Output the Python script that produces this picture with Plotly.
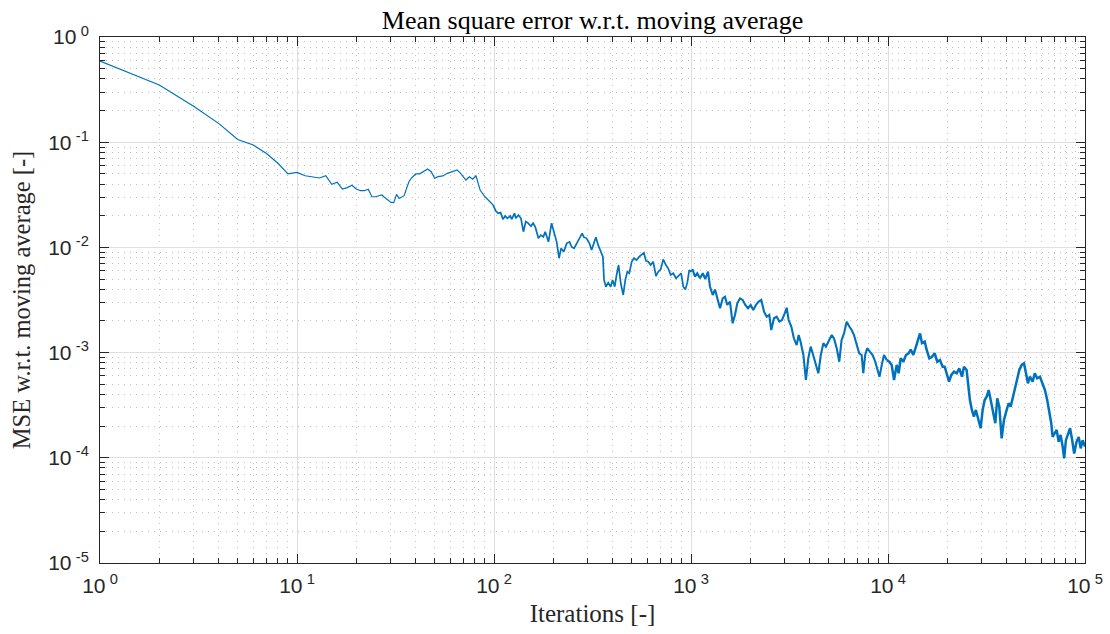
import numpy as np
import plotly.graph_objects as go

# Iteration counts and the MSE of the estimate w.r.t. the moving average
iterations = [
    1, 2, 3, 4, 5, 6, 7, 8, 9, 10, 11, 12, 13, 14, 15, 16, 17, 18, 19, 20,
    21, 22, 23, 24, 25, 26, 27, 28, 29, 30, 31, 32, 33, 34, 35, 36, 37, 38,
    40, 42, 44, 46, 48, 50, 52, 55, 58, 62, 65, 68, 70, 72, 75, 78, 81,
    85, 90, 95, 99, 102, 105, 108, 111, 114, 117, 121, 123, 127, 129, 133,
    137, 141, 145, 149, 154, 158, 162, 168, 173, 178, 182, 189, 196, 202,
    208, 214, 219, 226, 234, 242, 248, 255, 263, 271, 280, 286, 295, 305,
    313, 322, 329, 338, 347, 357, 362, 370, 380, 391, 400, 410, 419, 429,
    440, 453, 464, 475, 486, 500, 513, 529, 546, 562, 577, 590, 607, 624,
    643, 664, 682, 702, 723, 746, 766, 788, 812, 840, 861, 891, 914, 936,
    958, 980,
    988, 1020, 1048, 1076, 1111, 1147, 1182, 1220, 1249, 1289, 1324, 1360,
    1404, 1449, 1488, 1528, 1577, 1627, 1672, 1718, 1773, 1830, 1886, 1947,
    2009, 2070, 2137, 2206, 2274, 2348, 2422, 2497, 2555, 2637, 2722, 2809,
    2896, 2990, 3060, 3130, 3230, 3330, 3440, 3520, 3600, 3720, 3830, 3940,
    4050, 4170, 4310, 4430, 4560, 4700, 4840, 5000, 5180, 5320, 5490, 5660,
    5810, 5980, 6170, 6360, 6540, 6720, 6930, 7140, 7350, 7490, 7660, 7840,
    8090, 8350, 8620, 8860, 9050, 9300, 9540, 9850, 10150,
    10440, 10730, 11070, 11330, 11600, 11960, 12340, 12730, 13040, 13440,
    13870, 14250, 14540, 14880, 15360, 15720, 16210, 16720, 17260, 17790,
    18350, 18950, 19390, 19850, 20410, 20960, 21630, 22320, 23000, 23740,
    24300, 25070, 25550, 26050, 26660, 27290, 27930, 28710, 29530, 30230,
    30950, 31690, 32440, 33210, 34000, 35050, 35870, 36720, 37750, 38790,
    40030, 40970, 41950, 42950, 44130, 45340, 46410, 47720, 49020, 50180,
    51320, 52530, 54200, 55600, 57200, 59100, 60900, 62600, 64300, 65800,
    67400, 68500, 70200, 71800, 73500, 75200, 77000, 78400, 80000, 82100,
    84000, 86100, 88100, 90600, 92900, 95100, 97300, 100000,
]
mse = [
    0.59, 0.35, 0.218, 0.151, 0.106, 0.094, 0.078, 0.063, 0.0499, 0.0517,
    0.048, 0.047, 0.0457, 0.048, 0.0398, 0.0416, 0.0359, 0.037, 0.039, 0.0359,
    0.0346, 0.0346, 0.0357, 0.0303, 0.0303, 0.031, 0.0315, 0.0296, 0.0282,
    0.0268, 0.0266, 0.0319, 0.0292, 0.0303, 0.031, 0.0364, 0.0421, 0.0454,
    0.0499, 0.05, 0.0525, 0.0556, 0.0525, 0.0454, 0.047, 0.0478, 0.0506,
    0.0525, 0.0545, 0.05, 0.047, 0.0437, 0.047, 0.0445, 0.048,
    0.0351, 0.0303, 0.0272, 0.0253, 0.0223, 0.0211, 0.0214, 0.0185, 0.0199,
    0.0189, 0.0199, 0.0185, 0.0211, 0.0189, 0.0203, 0.0189, 0.0141, 0.0176,
    0.0170, 0.0159, 0.0170, 0.0157, 0.0122, 0.0131, 0.0126, 0.0141, 0.0113,
    0.0170, 0.0136, 0.0113, 0.00789, 0.0098, 0.0091, 0.01093, 0.0113,
    0.0101, 0.0098, 0.01093, 0.0118, 0.0136, 0.0125, 0.0122, 0.01093,
    0.00945, 0.0111, 0.0125, 0.0105, 0.0091, 0.00816, 0.0049, 0.00423,
    0.00462, 0.00423, 0.0049, 0.00423, 0.00547, 0.0068, 0.00456, 0.00353,
    0.0049, 0.00588, 0.00568, 0.00731, 0.00789, 0.00759, 0.00816, 0.00846,
    0.0089, 0.00747, 0.00731, 0.0068, 0.00731, 0.00535, 0.00588, 0.0062,
    0.0077, 0.0068, 0.00633, 0.00547, 0.00568, 0.00509, 0.00535, 0.00568,
    0.00423, 0.00397, 0.00462, 0.0061,
    0.00588, 0.0061, 0.00527, 0.00568, 0.00509, 0.00568, 0.00501, 0.00588,
    0.00423, 0.00353, 0.00397, 0.00328, 0.00264, 0.00328, 0.0034, 0.00284,
    0.00305, 0.0019, 0.00228, 0.00294, 0.00328, 0.00317, 0.00284, 0.00264,
    0.00284, 0.00254, 0.00284, 0.00305, 0.00317, 0.00245, 0.00219, 0.00228,
    0.00164, 0.00212, 0.00219, 0.00197, 0.00204, 0.00236, 0.00267, 0.00204,
    0.00177, 0.00136, 0.00118, 0.00147, 0.00127, 0.000949, 0.000549,
    0.000883, 0.00114, 0.000949, 0.000764, 0.000636, 0.000949, 0.00123,
    0.00114, 0.00127, 0.00147, 0.00136, 0.0011, 0.000819, 0.00131, 0.00152,
    0.00197, 0.00177, 0.00164, 0.00147, 0.00123, 0.000985, 0.000949,
    0.000636, 0.000949, 0.0011, 0.00102, 0.000949, 0.000819, 0.000659,
    0.00059, 0.000764, 0.000949, 0.00085, 0.000819,
    0.000764, 0.000549, 0.000764, 0.000636, 0.000883, 0.000819, 0.000949,
    0.000985, 0.00107, 0.000949, 0.00114, 0.00136, 0.00152, 0.00123,
    0.00127, 0.00106, 0.000883, 0.000914, 0.000985, 0.000819, 0.00085,
    0.000734, 0.000734, 0.000636, 0.000529, 0.000613, 0.000659, 0.000636,
    0.000709, 0.00059, 0.000734, 0.000683, 0.000474, 0.000354, 0.000285,
    0.000246, 0.000285, 0.000229, 0.000191, 0.000285, 0.000354, 0.000381,
    0.000441, 0.000354, 0.000285, 0.000213, 0.000367, 0.000306, 0.000153,
    0.000229, 0.000285, 0.00033, 0.000306, 0.000367, 0.000474, 0.00059,
    0.000683, 0.000764, 0.000791, 0.000636, 0.000511, 0.00059, 0.000529,
    0.000636, 0.00057, 0.00059, 0.000511, 0.000441, 0.000354, 0.000285,
    0.000213, 0.000158, 0.000171, 0.000184, 0.000142, 0.000165, 0.000128,
    0.0000989, 0.000147, 0.000171, 0.000191, 0.000147, 0.00011, 0.000142,
    0.000158, 0.000123, 0.000147, 0.000128,
]

x_exponents = [0, 1, 2, 3, 4, 5]
y_exponents = [0, -1, -2, -3, -4, -5]

LINE_BLUE = "#0072BD"
AXIS_GRAY = "#262626"
SANS = "Liberation Sans, Arial, sans-serif"
SERIF = "Liberation Serif, Times New Roman, serif"


def power_labels(exps):
    return ["10\u2009<sup>%d</sup>" % e for e in exps]


def minor_values(exps):
    lo, hi = min(exps), max(exps)
    return [m * 10.0 ** k for k in range(lo, hi) for m in range(2, 10)]


it = np.asarray(iterations, dtype=float)
err = np.asarray(mse, dtype=float)

# The curve gets noisier with more iterations, so later decades are stroked
# a little heavier; consecutive pieces share their boundary sample.
pieces = [(1, 100, 1.2), (100, 1000, 1.7), (1000, 10000, 2.1), (10000, 1e5, 2.5)]

fig = go.Figure()
for lo, hi, w in pieces:
    idx = np.where((it >= lo) & (it <= hi))[0]
    if idx[0] > 0:
        idx = np.concatenate([[idx[0] - 1], idx])
    fig.add_trace(go.Scatter(
        x=it[idx], y=err[idx], mode="lines",
        line=dict(color=LINE_BLUE, width=w),
        showlegend=False, hoverinfo="x+y",
    ))

axis_common = dict(
    type="log",
    automargin=False,
    showline=True, linecolor=AXIS_GRAY, linewidth=1, mirror="ticks",
    ticks="inside", ticklen=9, tickwidth=1, tickcolor=AXIS_GRAY,
    showgrid=True, gridcolor="#dfdfdf", gridwidth=1,
    zeroline=False,
    tickfont=dict(family=SANS, size=21, color=AXIS_GRAY),
    minor=dict(
        ticks="inside", ticklen=5, tickcolor=AXIS_GRAY, tickwidth=1,
        showgrid=True, gridcolor="#c2c2c2", griddash="1px,5px",
        gridwidth=1,
    ),
)

fig.update_xaxes(
    **axis_common,
    range=[0, 5],
    tickmode="array",
    tickvals=[10.0 ** e for e in x_exponents],
    ticktext=power_labels(x_exponents),
    ticklabelstandoff=4,
    title=dict(text="Iterations [-]",
               font=dict(family=SERIF, size=25, color=AXIS_GRAY), standoff=8),
)
fig.update_xaxes(minor_tickvals=minor_values(x_exponents))

fig.update_yaxes(
    **axis_common,
    range=[-5, 0],
    tickmode="array",
    tickvals=[10.0 ** e for e in y_exponents],
    ticktext=power_labels(y_exponents),
    ticklabelstandoff=6,
    title=dict(text="MSE w.r.t. moving average [-]",
               font=dict(family=SERIF, size=24.5, color=AXIS_GRAY), standoff=10),
)
fig.update_yaxes(minor_tickvals=minor_values(y_exponents))

fig.update_layout(
    width=1110, height=634,
    margin=dict(l=100, r=25, t=37, b=71),
    paper_bgcolor="white", plot_bgcolor="white",
    title=dict(text="Mean square error w.r.t. moving average",
               font=dict(family=SERIF, size=26, color="black"),
               x=0.5338, xanchor="center", y=0.968, yanchor="middle"),
)

fig.write_html("out.html")
